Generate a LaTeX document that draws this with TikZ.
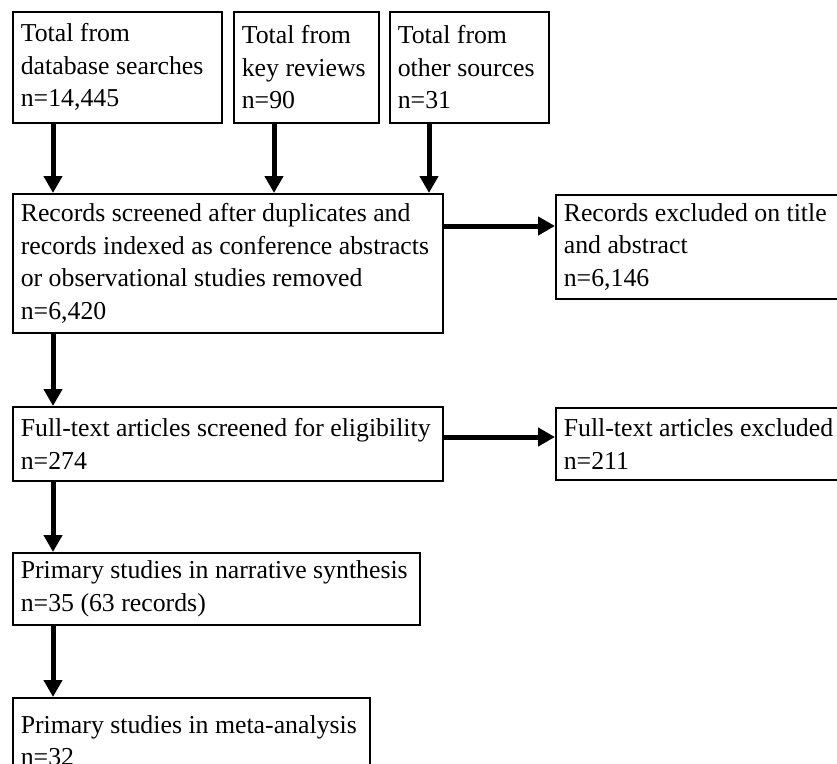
\documentclass[tikz,border=0pt]{standalone}
\usepackage{fontspec}
\setmainfont{Liberation Serif}
\usetikzlibrary{arrows.meta,calc}

\begin{document}
\begin{tikzpicture}[x=1pt, y=-1pt, line join=miter]

\tikzset{
  box/.style={draw, line width=1.6pt, anchor=north west, align=flush left, inner xsep=8pt, inner ysep=0pt, font=\fontsize{25.8}{32.5}\selectfont},
  arr/.style={-{Triangle[width=18pt,length=17pt]}, line width=5pt}
}

\useasboundingbox (0,0) rectangle (837,763);
\clip (0,0) rectangle (837,763);

\node[box, text width=193pt, minimum height=111pt] (db) at (12,11) {Total from\\database searches\\n=14,445};
\node[box, text width=129pt, minimum height=111pt] (keyrev) at (233,11) {Total from\\key reviews\\n=90};
\node[box, text width=143pt, minimum height=111pt] (other) at (389,11) {Total from\\other sources\\n=31};

\node[box, text width=414pt, minimum height=139pt] (screened) at (12,193) {Records screened after duplicates and\\records indexed as conference abstracts\\or observational studies removed\\n=6,420};
\node[box, text width=284pt, minimum height=104pt] (exclTA) at (555,194) {Records excluded on title\\and abstract\\n=6,146};

\node[box, text width=414pt, minimum height=74pt] (fulltext) at (12,406) {Full-text articles screened for eligibility\\n=274};
\node[box, text width=284pt, minimum height=72pt] (exclFT) at (555,407) {Full-text articles excluded\\n=211};

\node[box, text width=391pt, minimum height=72pt] (narrative) at (12,552) {Primary studies in narrative synthesis\\n=35 (63 records)};
\node[box, text width=341pt, minimum height=86pt] (meta) at (12,697) {Primary studies in meta-analysis\\n=32};

\draw[arr] ($(db.south west)+(41,0)$) -- ($(screened.north west)+(41,0)$);
\draw[arr] ($(keyrev.south west)+(41,0)$) -- ($(screened.north west)+(262,0)$);
\draw[arr] ($(other.south west)+(40,0)$) -- ($(screened.north west)+(417,0)$);

\draw[arr] ($(screened.north east)+(0,33)$) -- ($(exclTA.north west)+(0,32)$);
\draw[arr] ($(screened.south west)+(41,0)$) -- ($(fulltext.north west)+(41,0)$);

\draw[arr] ($(fulltext.north east)+(0,31)$) -- ($(exclFT.north west)+(0,30)$);
\draw[arr] ($(fulltext.south west)+(41,0)$) -- ($(narrative.north west)+(41,0)$);
\draw[arr] ($(narrative.south west)+(41,0)$) -- ($(meta.north west)+(41,0)$);

\end{tikzpicture}
\end{document}
